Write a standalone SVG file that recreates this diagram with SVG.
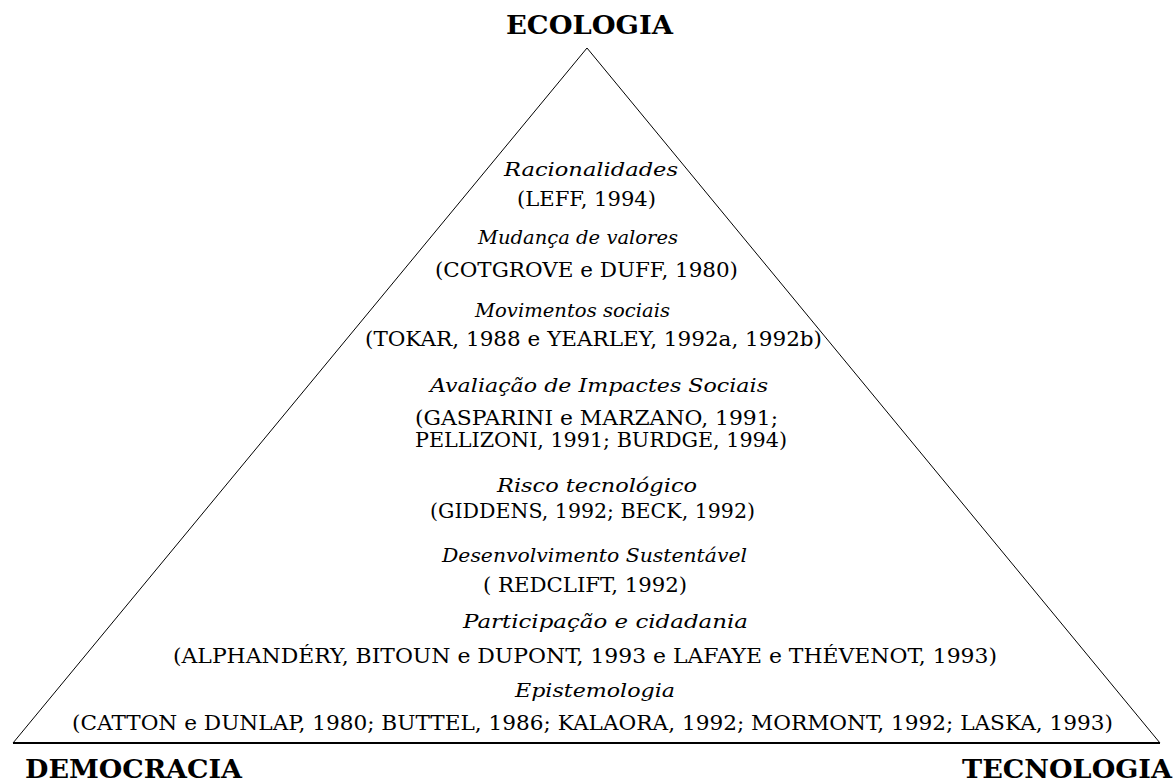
<svg xmlns="http://www.w3.org/2000/svg" width="1174" height="782" viewBox="0 0 1174 782">
<style>
text{font-family:"DejaVu Serif","Liberation Serif",serif;fill:#000;text-anchor:start}
.h{font-size:26px;font-weight:bold}
.t{font-size:18px;font-style:italic}
.r{font-size:19.5px}
</style>
<rect width="1174" height="782" fill="#fff"/>
<g id="connectors">
<path d="M13 743 L587 48 L1160 743" fill="none" stroke="#000" stroke-width="1"/>
<line x1="13" y1="743" x2="1160" y2="743" stroke="#000" stroke-width="1.8"/>
</g>
<g id="ecologia"><text class="h" x="506" y="34" textLength="167" lengthAdjust="spacingAndGlyphs">ECOLOGIA</text></g>
<g id="democracia"><text class="h" x="25" y="778" textLength="217" lengthAdjust="spacingAndGlyphs">DEMOCRACIA</text></g>
<g id="tecnologia"><text class="h" x="962" y="778" textLength="210" lengthAdjust="spacingAndGlyphs">TECNOLOGIA</text></g>
<g id="racionalidades">
<text class="t" x="504" y="176" textLength="174" lengthAdjust="spacingAndGlyphs">Racionalidades</text>
<text class="r" x="517" y="206" textLength="139" lengthAdjust="spacingAndGlyphs">(LEFF, 1994)</text>
</g>
<g id="mudanca">
<text class="t" x="478" y="244" textLength="200" lengthAdjust="spacingAndGlyphs">Mudança de valores</text>
<text class="r" x="435" y="277" textLength="303" lengthAdjust="spacingAndGlyphs">(COTGROVE e DUFF, 1980)</text>
</g>
<g id="movimentos">
<text class="t" x="475" y="317" textLength="195" lengthAdjust="spacingAndGlyphs">Movimentos sociais</text>
<text class="r" x="365" y="346" textLength="457" lengthAdjust="spacingAndGlyphs">(TOKAR, 1988 e YEARLEY, 1992a, 1992b)</text>
</g>
<g id="avaliacao">
<text class="t" x="430" y="392" textLength="338" lengthAdjust="spacingAndGlyphs">Avaliação de Impactes Sociais</text>
<text class="r" x="415" y="425" textLength="363" lengthAdjust="spacingAndGlyphs">(GASPARINI e MARZANO, 1991;</text>
<text class="r" x="415" y="447" textLength="372" lengthAdjust="spacingAndGlyphs">PELLIZONI, 1991; BURDGE, 1994)</text>
</g>
<g id="risco">
<text class="t" x="497" y="492" textLength="200" lengthAdjust="spacingAndGlyphs">Risco tecnológico</text>
<text class="r" x="430" y="518" textLength="325" lengthAdjust="spacingAndGlyphs">(GIDDENS, 1992; BECK, 1992)</text>
</g>
<g id="desenvolvimento">
<text class="t" x="442" y="562" textLength="305" lengthAdjust="spacingAndGlyphs">Desenvolvimento Sustentável</text>
<text class="r" x="483" y="592" textLength="204" lengthAdjust="spacingAndGlyphs">( REDCLIFT, 1992)</text>
</g>
<g id="participacao">
<text class="t" x="463" y="628" textLength="285" lengthAdjust="spacingAndGlyphs">Participação e cidadania</text>
<text class="r" x="173" y="663" textLength="824" lengthAdjust="spacingAndGlyphs">(ALPHANDÉRY, BITOUN e DUPONT, 1993 e  LAFAYE e THÉVENOT, 1993)</text>
</g>
<g id="epistemologia">
<text class="t" x="515" y="697" textLength="160" lengthAdjust="spacingAndGlyphs">Epistemologia</text>
<text class="r" x="72" y="730" textLength="1041" lengthAdjust="spacingAndGlyphs">(CATTON e DUNLAP, 1980; BUTTEL, 1986; KALAORA, 1992; MORMONT, 1992; LASKA, 1993)</text>
</g>
</svg>
